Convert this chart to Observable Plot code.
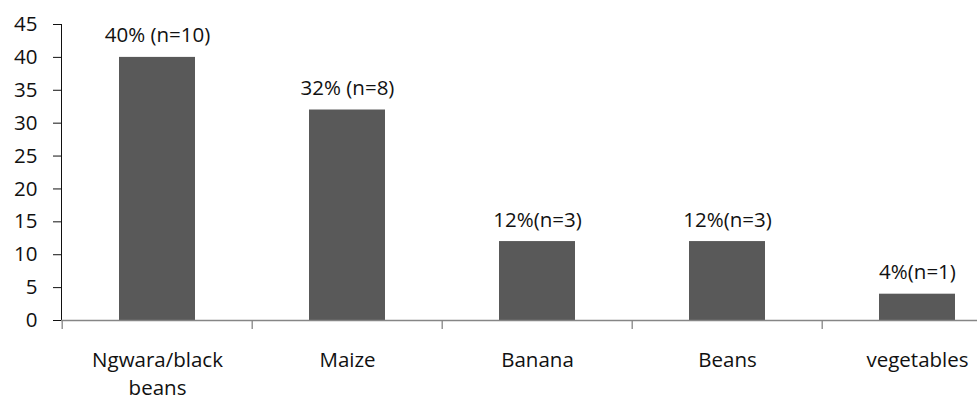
<!DOCTYPE html>
<html>
<head>
<meta charset="utf-8">
<script src="https://cdn.jsdelivr.net/npm/d3@7"></script>
<script src="https://cdn.jsdelivr.net/npm/@observablehq/plot@0.6"></script>
<style>
  html, body { margin: 0; padding: 0; background: #ffffff; }
  #chart svg { display: block; overflow: hidden; }
</style>
</head>
<body>
<div id="chart"></div>
<script>
// Crops named by respondents (share of respondents, %)
const categories = ["Ngwara/black beans", "Maize", "Banana", "Beans", "vegetables"];
const tickLabels = ["Ngwara/black\nbeans", "Maize", "Banana", "Beans", "vegetables"];
const percents = [40, 32, 12, 12, 4];
const valueLabels = ["40% (n=10)", "32% (n=8)", "12%(n=3)", "12%(n=3)", "4%(n=1)"];
const yTicks = [0, 5, 10, 15, 20, 25, 30, 35, 40, 45];

const rows = categories.map((c, i) => ({
  category: c,
  percent: percents[i],
  label: valueLabels[i],
  tick: tickLabels[i]
}));

const W = 977, H = 400;
const left = 61;
const step = 190.6;                 // width of one category slot
const xRange = [left, left + step * categories.length];
const axisColor = "#868686";
const font = "'Open Sans', Lato, sans-serif";
const fs = 20.5;

const chart = Plot.plot({
  width: W,
  height: H,
  marginLeft: left,
  marginRight: 0,
  marginTop: 24,
  marginBottom: 80,
  style: { fontFamily: font, fontSize: fs + "px", color: "#111", background: "#fff" },
  x: { type: "band", domain: categories, range: xRange, paddingInner: 0.6, paddingOuter: 0.3, axis: null },
  y: { domain: [0, 45], ticks: yTicks, tickSize: 8, tickPadding: 16, line: true, label: null },
  marks: [
    Plot.barY(rows, { x: "category", y: "percent", fill: "#595959" }),
    Plot.ruleY([0], { stroke: axisColor, strokeWidth: 1.3 }),
    // category boundary ticks below the baseline
    Plot.ruleX(rows, { x: "category", y1: 0, y2: 0, dx: -step / 2, insetTop: 0, insetBottom: -9, stroke: axisColor, strokeWidth: 1.3 }),
    Plot.text(rows, { x: "category", y: "percent", text: "label", lineAnchor: "bottom", dy: -15, fill: "#111", fontSize: fs }),
    Plot.text(rows, { x: "category", y: 0, text: "tick", lineAnchor: "top", dy: 27, lineHeight: 1.36, fill: "#111", fontSize: fs })
  ]
});

document.getElementById("chart").appendChild(chart);
</script>
</body>
</html>
